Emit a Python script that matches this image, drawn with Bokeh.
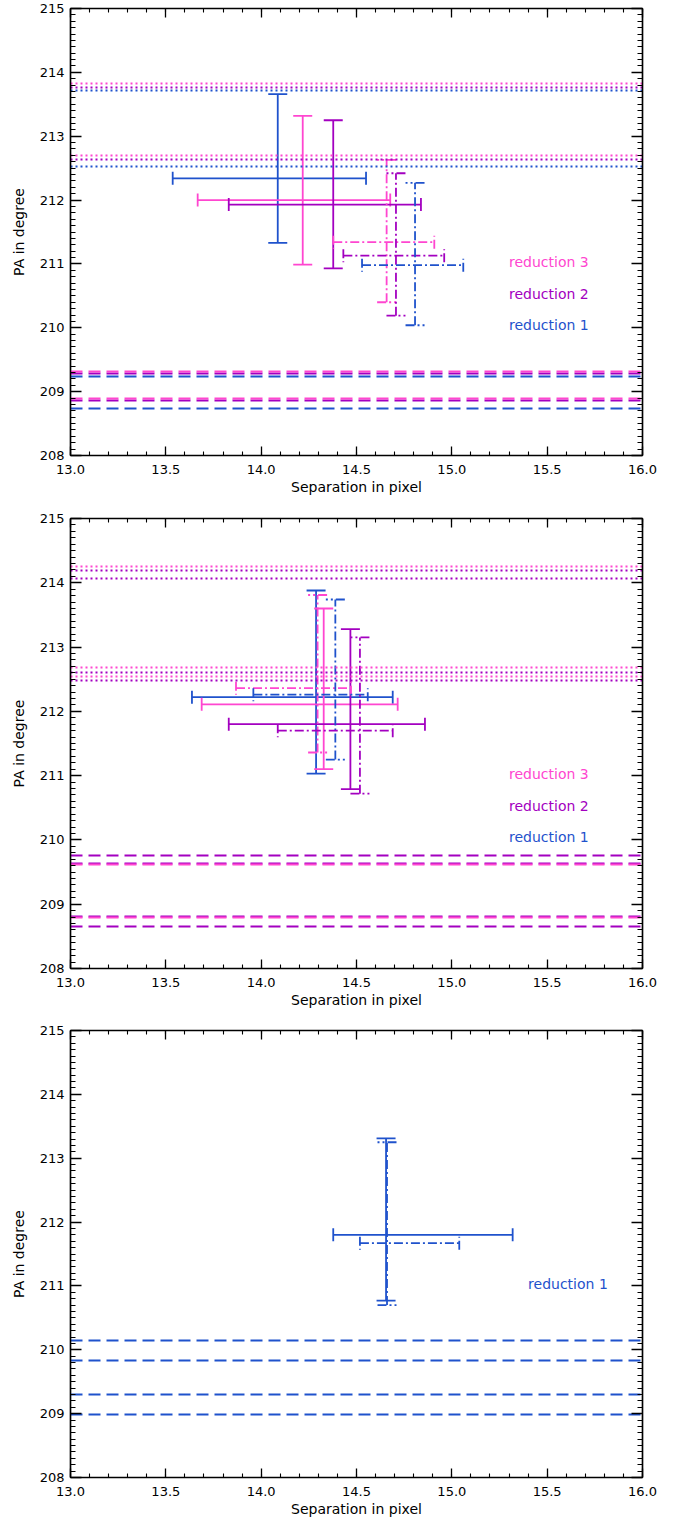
import numpy as np
from bokeh.plotting import figure
from bokeh.models import (ColumnDataSource, Whisker, TeeHead, LinearAxis, Range1d,
                          SingleIntervalTicker, NumeralTickFormatter)
from bokeh.layouts import column
from bokeh.embed import file_html
from bokeh.resources import INLINE
from bokeh.core.properties import value

# ---------------- data ----------------
X_LABEL = "Separation in pixel"
Y_LABEL = "PA in degree"

# panel 1 error bars
p1_series = ["reduction 1", "reduction 3", "reduction 2", "reduction 3", "reduction 2", "reduction 1"]
p1_style = ["solid", "solid", "solid", "dashdot", "dashdot", "dashdot"]
p1_x = [14.087, 14.218, 14.378, 14.658, 14.707, 14.807]
p1_xlo = [13.536, 13.667, 13.830, 14.378, 14.431, 14.529]
p1_xhi = [14.550, 14.677, 14.838, 14.908, 14.960, 15.060]
p1_y = [212.34, 212.00, 211.93, 211.34, 211.13, 210.98]
p1_ylo = [211.33, 210.99, 210.93, 210.40, 210.19, 210.04]
p1_yhi = [213.66, 213.32, 213.25, 212.63, 212.42, 212.27]
# panel 1 reference lines (per reduction)
p1_dotted = {"reduction 1": [213.72, 212.53], "reduction 2": [213.77, 212.63], "reduction 3": [213.82, 212.70]}
p1_dashed = {"reduction 1": [209.23, 208.74], "reduction 2": [209.28, 208.86], "reduction 3": [209.32, 208.90]}

# panel 2 error bars
p2_series = ["reduction 1", "reduction 3", "reduction 2", "reduction 3", "reduction 1", "reduction 2"]
p2_style = ["solid", "solid", "solid", "dashdot", "dashdot", "dashdot"]
p2_x = [14.288, 14.328, 14.468, 14.296, 14.389, 14.518]
p2_xlo = [13.637, 13.688, 13.830, 13.868, 13.959, 14.087]
p2_xhi = [14.690, 14.716, 14.859, 14.471, 14.559, 14.690]
p2_y = [212.22, 212.11, 211.80, 212.36, 212.26, 211.70]
p2_ylo = [211.03, 211.10, 210.79, 211.36, 211.25, 210.72]
p2_yhi = [213.88, 213.60, 213.28, 213.81, 213.74, 213.15]
p2_dotted = {"reduction 2": [214.19, 212.61, 214.06, 212.48], "reduction 3": [214.26, 212.68, 212.54]}
p2_dashed = {"reduction 2": [209.76, 209.64, 208.81, 208.66], "reduction 3": [209.62, 208.79]}

# panel 3 error bars
p3_series = ["reduction 1", "reduction 1"]
p3_style = ["solid", "dashdot"]
p3_x = [14.655, 14.660]
p3_xlo = [14.378, 14.518]
p3_xhi = [15.319, 15.039]
p3_y = [211.80, 211.67]
p3_ylo = [210.77, 210.70]
p3_yhi = [213.31, 213.25]
p3_dotted = {}
p3_dashed = {"reduction 1": [210.14, 209.84, 209.30, 208.99]}

# legend entries (text, anchor in data units)
LEG_NAMES = ["reduction 3", "reduction 2", "reduction 1"]
LEG_Y = [211.03, 210.53, 210.04]

# ---------------- style ----------------
COLORS = {"reduction 1": "#1f52cc", "reduction 2": "#a300c0", "reduction 3": "#ff46d0"}
DASH = {"solid": "solid", "dashdot": "9 3 2 3"}
FONT = "DejaVu Sans"
LW = 1.8

FRAME_W = 572
LEFT = 70
RIGHT = 20
TOP = 8


def make_fig(frame_h, top, bottom):
    p = figure(width=LEFT + FRAME_W + RIGHT, height=top + frame_h + bottom,
               x_range=Range1d(13, 16), y_range=Range1d(208, 215),
               output_backend="svg", toolbar_location=None,
               min_border_left=LEFT, min_border_right=RIGHT,
               min_border_top=top, min_border_bottom=bottom)
    p.grid.visible = False
    p.outline_line_color = "black"
    p.outline_line_width = 1.2
    p.background_fill_color = "white"
    p.border_fill_color = "white"

    xt = SingleIntervalTicker(interval=0.5, num_minor_ticks=5)
    yt = SingleIntervalTicker(interval=1, num_minor_ticks=10)

    def style_axis(ax, horizontal, labels):
        ax.axis_line_color = "black"
        ax.axis_line_width = 1.5
        ax.major_tick_line_color = "black"
        ax.minor_tick_line_color = "black"
        ax.major_tick_line_width = 1.3
        ax.minor_tick_line_width = 1.1
        ax.major_tick_out = 0
        ax.minor_tick_out = 0
        if horizontal:
            ax.major_tick_in = 9
            ax.minor_tick_in = 4
        else:
            ax.major_tick_in = 11
            ax.minor_tick_in = 5
        if labels:
            ax.major_label_text_font = FONT
            ax.major_label_text_font_size = "13px"
            ax.major_label_text_color = "black"
            ax.axis_label_text_font = FONT
            ax.axis_label_text_font_size = "14px"
            ax.axis_label_text_font_style = "normal"
            ax.axis_label_text_color = "black"
        else:
            ax.major_label_text_color = None
            ax.major_label_text_alpha = 0
            ax.major_label_text_font_size = "1px"
            ax.major_label_standoff = 0

    xa = p.xaxis[0]
    xa.ticker = xt
    xa.formatter = NumeralTickFormatter(format="0.0")
    xa.axis_label = X_LABEL
    style_axis(xa, True, True)
    xa.major_label_standoff = 9
    xa.axis_label_standoff = 2

    ya = p.yaxis[0]
    ya.ticker = yt
    ya.axis_label = Y_LABEL
    style_axis(ya, False, True)
    ya.major_label_standoff = 6
    ya.axis_label_standoff = 10

    ra = LinearAxis(ticker=yt)
    style_axis(ra, False, False)
    p.add_layout(ra, "right")
    ta = LinearAxis(ticker=xt)
    style_axis(ta, True, False)
    p.add_layout(ta, "above")
    return p


def add_lines(p, dotted, dashed):
    for s, ys in dotted.items():
        p.hspan(y=ys, line_color=COLORS[s], line_width=LW, line_dash="2 3")
    for s, ys in dashed.items():
        p.hspan(y=ys, line_color=COLORS[s], line_width=LW, line_dash="12 6")


def add_bars(p, series, style, x, xlo, xhi, y, ylo, yhi):
    for i in range(len(x)):
        c = COLORS[series[i]]
        d = DASH[style[i]]
        src = ColumnDataSource(dict(x=[x[i]], y=[y[i]], xlo=[xlo[i]], xhi=[xhi[i]],
                                    ylo=[ylo[i]], yhi=[yhi[i]]))
        vw = Whisker(source=src, base="x", lower="ylo", upper="yhi", dimension="height",
                     line_color=c, line_width=LW, line_dash=d,
                     lower_head=TeeHead(size=19, line_color=c, line_width=LW, line_dash=d),
                     upper_head=TeeHead(size=19, line_color=c, line_width=LW, line_dash=d))
        hw = Whisker(source=src, base="y", lower="xlo", upper="xhi", dimension="width",
                     line_color=c, line_width=LW, line_dash=d,
                     lower_head=TeeHead(size=13, line_color=c, line_width=LW, line_dash=d),
                     upper_head=TeeHead(size=13, line_color=c, line_width=LW, line_dash=d))
        p.add_layout(vw)
        p.add_layout(hw)


def add_legend(p, names, lx, ly):
    src = ColumnDataSource(dict(x=[lx] * len(names), y=ly, t=names,
                                c=[COLORS[n] for n in names]))
    p.text(x="x", y="y", text="t", text_color="c", source=src,
           text_font=value(FONT), text_font_size="14px",
           text_baseline="alphabetic", text_align="left")


f1 = make_fig(447, TOP, 55)
add_lines(f1, p1_dotted, p1_dashed)
add_bars(f1, p1_series, p1_style, p1_x, p1_xlo, p1_xhi, p1_y, p1_ylo, p1_yhi)
add_legend(f1, LEG_NAMES, 15.3, LEG_Y)

f2 = make_fig(450, TOP, 54)
add_lines(f2, p2_dotted, p2_dashed)
add_bars(f2, p2_series, p2_style, p2_x, p2_xlo, p2_xhi, p2_y, p2_ylo, p2_yhi)
add_legend(f2, LEG_NAMES, 15.3, LEG_Y)

f3 = make_fig(447, TOP, 43)
add_lines(f3, p3_dotted, p3_dashed)
add_bars(f3, p3_series, p3_style, p3_x, p3_xlo, p3_xhi, p3_y, p3_ylo, p3_yhi)
add_legend(f3, LEG_NAMES[2:], 15.4, LEG_Y[:1])

layout = column(f1, f2, f3, spacing=0)
open("out.html", "w").write(file_html(layout, INLINE))
